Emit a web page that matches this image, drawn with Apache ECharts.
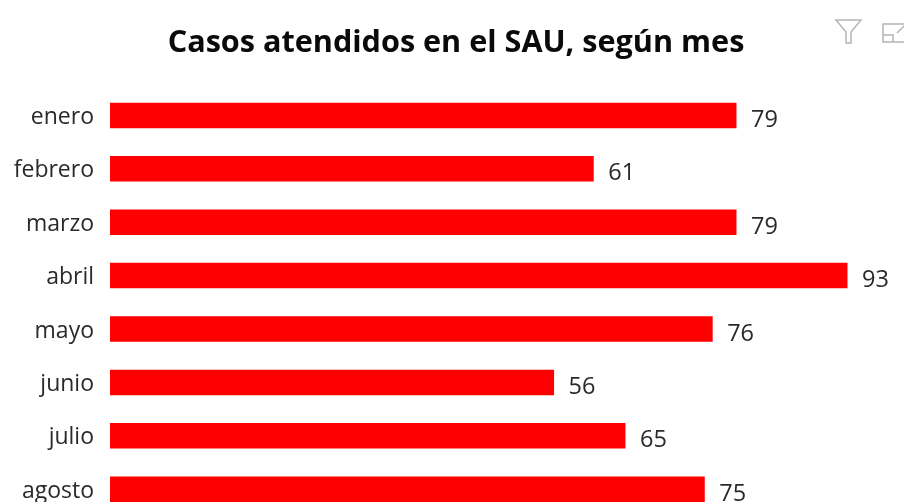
<!DOCTYPE html>
<html><head><meta charset="utf-8">
<style>html,body{margin:0;padding:0;background:#fff;overflow:hidden;width:904px;height:502px}#c{width:904px;height:560px}</style>
<script src="https://cdn.jsdelivr.net/npm/echarts@6/dist/echarts.min.js"></script>
</head><body><div id="c"></div>
<script>
const titleText = 'Casos atendidos en el SAU, según mes';
const months = ['enero','febrero','marzo','abril','mayo','junio','julio','agosto'];
const cases = [79,61,79,93,76,56,65,75];
const chart = echarts.init(document.getElementById('c'), null, {renderer:'canvas'});
const font = '"Open Sans","Noto Sans",sans-serif';
const iconStyle = {stroke:'#b4b4b4', fill:'none', lineWidth:1.5};
chart.setOption({
  animation:false,
  backgroundColor:'#fff',
  title:{text:titleText,left:451,top:23,textAlign:'center',
    textStyle:{fontFamily:font,fontSize:30.6,fontWeight:700,color:'#0a0a0a'}},
  grid:{left:110,top:88.7,width:737.5,height:427.2,containLabel:false},
  xAxis:{type:'value',min:0,max:93,show:false},
  yAxis:{type:'category',inverse:true,data:months,
    axisLine:{show:false},axisTick:{show:false},
    axisLabel:{margin:16,formatter:'{a|{value}}',
      rich:{a:{fontFamily:font,fontSize:23,color:'#2a2a2a',padding:[4,0,0,0]}}}},
  series:[{type:'bar',data:cases,barWidth:25.5,
    itemStyle:{color:'#ff0000'},
    label:{show:true,position:'right',distance:14.5,offset:[0,5],
      fontFamily:font,fontSize:23.5,color:'#2a2a2a'}}],
  graphic:[
    {type:'polygon',shape:{points:[[836,20],[861,20],[851,32],[851,43],[846,43],[846,32]]},style:iconStyle},
    {type:'polyline',shape:{points:[[904,24],[883,24],[883,42],[904,42]]},style:iconStyle},
    {type:'polyline',shape:{points:[[883,35],[893,35],[893,42]]},style:iconStyle},
    {type:'polyline',shape:{points:[[897,33],[904,26]]},style:iconStyle}
  ]
});
</script></body></html>
